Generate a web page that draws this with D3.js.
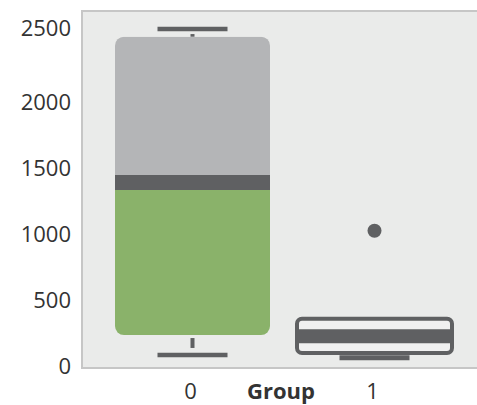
<!DOCTYPE html>
<html>
<head>
<meta charset="utf-8">
<script src="https://cdn.jsdelivr.net/npm/d3@7"></script>
<style>
  body { margin: 0; background: #fff; }
  svg { font-family: "Open Sans", "Noto Sans", sans-serif; }
</style>
</head>
<body>
<svg id="chart"></svg>
<script>
(function () {
    const W = 477;
    const H = 405;

    // data
    const groups = ["0", "1"];
    const lowWhisker = [76, 55];
    const q1 = [227, 90];
    const median = [1383, 217];
    const q3 = [2487, 350];
    const highWhisker = [2545, null];
    const outliers = [[], [1017]];
    const yTicks = [0, 500, 1000, 1500, 2000, 2500];

    const plot = { left: 82, top: 11, right: 479, bottom: 368 };

    const svg = d3.select("#chart")
        .attr("width", W)
        .attr("height", H);

    const x = d3.scaleBand()
        .domain(groups)
        .range([101.5, 465.5]);

    const y = d3.scaleLinear()
        .domain([0, 2500])
        .range([365, 35]);

    const boxW = 155;
    const capW = 70;
    const dark = "#5f6062";

    // plot background + frame
    svg.append("rect")
        .attr("x", plot.left)
        .attr("y", plot.top)
        .attr("width", plot.right - plot.left)
        .attr("height", plot.bottom - plot.top)
        .attr("fill", "#eaebea")
        .attr("stroke", "#c6c6c6")
        .attr("stroke-width", 2);

    const cx = i => x(groups[i]) + x.bandwidth() / 2;

    // group 0: filled box, grey above median, green below
    const defs = svg.append("defs");
    defs.append("clipPath").attr("id", "clip0")
        .append("rect")
        .attr("x", cx(0) - boxW / 2)
        .attr("y", y(q3[0]))
        .attr("width", boxW)
        .attr("height", y(q1[0]) - y(q3[0]))
        .attr("rx", 9);

    const g0 = svg.append("g");
    g0.append("rect")
        .attr("clip-path", "url(#clip0)")
        .attr("x", cx(0) - boxW / 2)
        .attr("y", y(q3[0]))
        .attr("width", boxW)
        .attr("height", y(median[0]) - y(q3[0]))
        .attr("fill", "#b4b5b7");
    g0.append("rect")
        .attr("clip-path", "url(#clip0)")
        .attr("x", cx(0) - boxW / 2)
        .attr("y", y(median[0]))
        .attr("width", boxW)
        .attr("height", y(q1[0]) - y(median[0]))
        .attr("fill", "#8ab26a");
    g0.append("line")
        .attr("x1", cx(0) - boxW / 2).attr("x2", cx(0) + boxW / 2)
        .attr("y1", y(median[0])).attr("y2", y(median[0]))
        .attr("stroke", dark).attr("stroke-width", 15);

    // whiskers for group 0 (rule stops short of the cap)
    g0.append("line")
        .attr("x1", cx(0)).attr("x2", cx(0))
        .attr("y1", y(q3[0])).attr("y2", y(highWhisker[0]) + 5)
        .attr("stroke", dark).attr("stroke-width", 4);
    g0.append("line")
        .attr("x1", cx(0)).attr("x2", cx(0))
        .attr("y1", y(q1[0]) + 3).attr("y2", y(lowWhisker[0]) - 7)
        .attr("stroke", dark).attr("stroke-width", 4);
    [highWhisker[0], lowWhisker[0]].forEach(v => {
        g0.append("line")
            .attr("x1", cx(0) - capW / 2).attr("x2", cx(0) + capW / 2)
            .attr("y1", y(v)).attr("y2", y(v))
            .attr("stroke", dark).attr("stroke-width", 4.5);
    });

    // group 1: outlined box
    const g1 = svg.append("g");
    g1.append("line")
        .attr("x1", cx(1) - capW / 2).attr("x2", cx(1) + capW / 2)
        .attr("y1", y(lowWhisker[1])).attr("y2", y(lowWhisker[1]))
        .attr("stroke", dark).attr("stroke-width", 5);
    g1.append("rect")
        .attr("x", cx(1) - boxW / 2)
        .attr("y", y(q3[1]))
        .attr("width", boxW)
        .attr("height", y(q1[1]) - y(q3[1]))
        .attr("rx", 5)
        .attr("fill", "#f0f0f0")
        .attr("stroke", dark)
        .attr("stroke-width", 4);
    g1.append("line")
        .attr("x1", cx(1) - boxW / 2).attr("x2", cx(1) + boxW / 2)
        .attr("y1", y(median[1])).attr("y2", y(median[1]))
        .attr("stroke", dark).attr("stroke-width", 14);

    outliers.forEach((arr, i) => {
        svg.selectAll(null)
            .data(arr)
            .enter().append("circle")
            .attr("cx", cx(i))
            .attr("cy", d => y(d))
            .attr("r", 7)
            .attr("fill", dark);
    });

    // y axis labels
    const yAxis = svg.append("g")
        .attr("transform", `translate(${plot.left},0)`)
        .call(d3.axisLeft(y).tickValues(yTicks).tickFormat(d3.format("d")).tickSize(0).tickPadding(11));
    yAxis.select(".domain").remove();
    yAxis.selectAll("text")
        .attr("font-size", 22)
        .attr("dy", "0.4em")
        .attr("font-family", "'Open Sans', sans-serif")
        .attr("fill", "#333");
    // top label sits a little higher in the reference
    yAxis.selectAll(".tick").filter(d => d === 2500).select("text").attr("dy", "0.04em");

    // x axis
    svg.append("line")
        .attr("x1", plot.left).attr("x2", W)
        .attr("y1", plot.bottom).attr("y2", plot.bottom)
        .attr("stroke", "#c6c6c6").attr("stroke-width", 2);
    const xAxis = svg.append("g")
        .attr("transform", `translate(-2,${plot.bottom})`)
        .call(d3.axisBottom(x).tickSize(0).tickPadding(15));
    xAxis.select(".domain").remove();
    xAxis.selectAll("text")
        .attr("font-size", 22)
        .attr("font-family", "'Open Sans', sans-serif")
        .attr("fill", "#333");

    svg.append("text")
        .attr("x", 281)
        .attr("y", 399)
        .attr("text-anchor", "middle")
        .attr("font-size", 22)
        .attr("font-weight", "bold")
        .attr("fill", "#333")
        .text("Group");
})();
</script>
</body>
</html>
